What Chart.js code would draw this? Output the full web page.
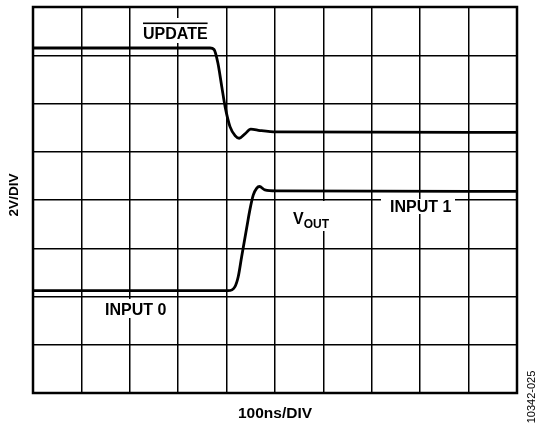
<!DOCTYPE html>
<html>
<head>
<meta charset="utf-8">
<script src="https://cdn.jsdelivr.net/npm/chart.js@4/dist/chart.umd.min.js"></script>
<style>
html,body{margin:0;padding:0;background:#fff;}
canvas{display:block;}
</style>
</head>
<body>
<canvas id="c" width="537" height="425"></canvas>
<script>
// Time in divisions (100ns/DIV), voltage in divisions (2V/DIV)
const updateX = [0, 3.66, 3.74, 3.82, 3.90, 3.97, 4.07, 4.18, 4.26, 4.38, 4.50, 4.69, 5.03, 10];
const updateY = [7.15, 7.15, 7.12, 6.84, 6.35, 5.93, 5.52, 5.33, 5.28, 5.37, 5.47, 5.44, 5.41, 5.40];
const voutX = [0, 4.03, 4.17, 4.24, 4.31, 4.42, 4.48, 4.55, 4.62, 4.68, 4.79, 5.03, 10];
const voutY = [2.12, 2.12, 2.20, 2.41, 2.82, 3.45, 3.79, 4.10, 4.24, 4.28, 4.21, 4.19, 4.18];
const xDivisions = 10;
const yDivisions = 8;
const xTitle = "100ns/DIV";
const yTitle = "2V/DIV";
const figureId = "10342-025";

const pts = (xs, ys) => xs.map((x, i) => ({x: x, y: ys[i]}));

const FONT = '"Liberation Sans", Arial, sans-serif';

const annot = {
  id: 'annot',
  afterDraw(chart) {
    const ctx = chart.ctx;
    const a = chart.chartArea;
    ctx.save();
    // frame
    ctx.strokeStyle = '#000';
    ctx.lineWidth = 2.5;
    ctx.strokeRect(a.left, a.top, a.right - a.left, a.bottom - a.top);

    const box = (x0, y0, x1, y1) => { ctx.fillStyle = '#fff'; ctx.fillRect(x0, y0, x1 - x0, y1 - y0); };
    ctx.textBaseline = 'alphabetic';
    ctx.textAlign = 'left';

    // UPDATE (with overline)
    box(140, 18, 211, 43);
    ctx.fillStyle = '#000';
    ctx.font = 'bold 16px ' + FONT;
    ctx.fillText('UPDATE', 143, 38.5);
    const w = ctx.measureText('UPDATE').width;
    ctx.fillRect(143, 22.5, w, 1.6);

    // INPUT 1
    box(381, 199, 455, 214);
    ctx.fillStyle = '#000';
    ctx.fillText('INPUT 1', 390, 211.5);

    // VOUT
    box(290, 201, 336, 231);
    ctx.fillStyle = '#000';
    ctx.font = 'bold 16px ' + FONT;
    ctx.fillText('V', 293, 223.5);
    const vw = ctx.measureText('V').width;
    ctx.font = 'bold 12px ' + FONT;
    ctx.fillText('OUT', 293 + vw, 228);

    // INPUT 0
    box(100, 299, 172, 318);
    ctx.fillStyle = '#000';
    ctx.font = 'bold 16px ' + FONT;
    ctx.fillText('INPUT 0', 105, 314.5);

    // axis titles
    ctx.textAlign = 'center';
    ctx.font = 'bold 15.5px ' + FONT;
    ctx.fillText(xTitle, 275, 417.5);
    ctx.save();
    ctx.translate(18, 195);
    ctx.rotate(-Math.PI / 2);
    ctx.font = 'bold 13.5px ' + FONT;
    ctx.fillText(yTitle, 0, 0);
    ctx.restore();

    ctx.save();
    ctx.translate(535, 397);
    ctx.rotate(-Math.PI / 2);
    ctx.font = '11px ' + FONT;
    ctx.fillText(figureId, 0, 0);
    ctx.restore();
    ctx.restore();
  }
};

new Chart(document.getElementById('c'), {
  type: 'line',
  data: {
    datasets: [
      { label: 'UPDATE', data: pts(updateX, updateY), borderColor: '#000', borderWidth: 2.8, pointRadius: 0, cubicInterpolationMode: 'monotone', fill: false },
      { label: 'VOUT', data: pts(voutX, voutY), borderColor: '#000', borderWidth: 2.8, pointRadius: 0, cubicInterpolationMode: 'monotone', fill: false }
    ]
  },
  options: {
    responsive: false,
    devicePixelRatio: 1,
    animation: false,
    layout: { padding: { left: 33, right: 20, top: 7, bottom: 32 } },
    plugins: { legend: { display: false }, tooltip: { enabled: false } },
    scales: {
      x: {
        type: 'linear', min: 0, max: xDivisions,
        ticks: { display: false, stepSize: 1 },
        grid: { color: '#000', lineWidth: 1.5, drawTicks: false },
        border: { display: false }
      },
      y: {
        type: 'linear', min: 0, max: yDivisions,
        ticks: { display: false, stepSize: 1 },
        grid: { color: '#000', lineWidth: 1.5, drawTicks: false },
        border: { display: false }
      }
    }
  },
  plugins: [annot]
});
</script>
</body>
</html>
